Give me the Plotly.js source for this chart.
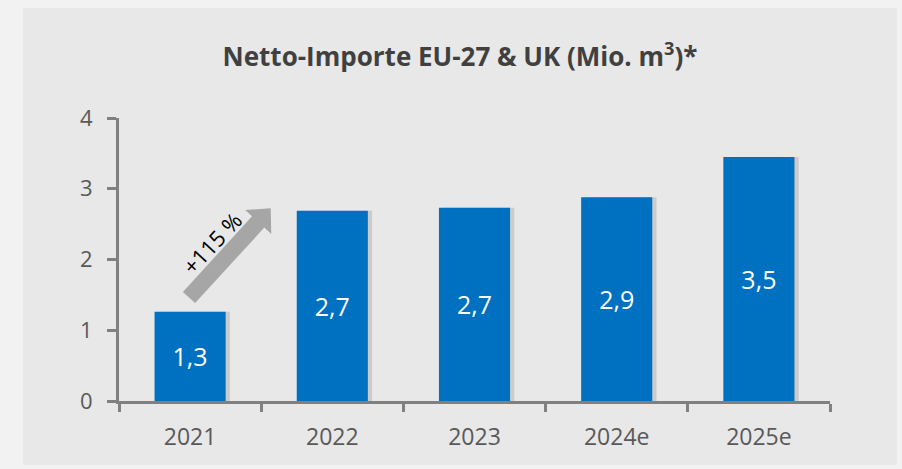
<!DOCTYPE html>
<html>
<head>
<meta charset="utf-8">
<script src="https://cdn.plot.ly/plotly-3.0.1.min.js"></script>
<style>html,body{margin:0;padding:0;background:#f2f2f2;}#chart{width:902px;height:469px;}</style>
</head>
<body>
<div id="chart"></div>
<script>
const categories = ["2021", "2022", "2023", "2024e", "2025e"];
const values = [1.26, 2.69, 2.73, 2.88, 3.45];
const valueLabels = ["1,3", "2,7", "2,7", "2,9", "3,5"];
const yTicks = [0, 1, 2, 3, 4];
const growthLabel = "+115 %";

const W = 902, H = 469;
const m = {l: 119, r: 72, t: 118, b: 68};
const pw = W - m.l - m.r, ph = H - m.t - m.b;
const px = x => (x - m.l) / pw;
const py = y => (H - m.b - y) / ph;

// decorative arrow polygon (pixel geometry -> paper coords)
const tail = [189, 297.5], tip = [270.7, 208.3];
const len = Math.hypot(tip[0] - tail[0], tip[1] - tail[1]);
const d = [(tip[0] - tail[0]) / len, (tip[1] - tail[1]) / len];
const n = [-d[1], d[0]];
const sw = 8.3, hw = 17.7, hl = 18.5;
const base = [tip[0] - hl * d[0], tip[1] - hl * d[1]];
const pts = [
  [tail[0] + sw * n[0], tail[1] + sw * n[1]],
  [base[0] + sw * n[0], base[1] + sw * n[1]],
  [base[0] + hw * n[0], base[1] + hw * n[1]],
  tip,
  [base[0] - hw * n[0], base[1] - hw * n[1]],
  [base[0] - sw * n[0], base[1] - sw * n[1]],
  [tail[0] - sw * n[0], tail[1] - sw * n[1]]
];
const arrowPath = 'M' + pts.map(p => px(p[0]).toFixed(5) + ',' + py(p[1]).toFixed(5)).join('L') + 'Z';

const shadow = {
  type: 'bar', x: categories, y: values,
  marker: {color: 'rgba(0,0,0,0.12)'},
  width: 0.5, offset: -0.25 + 0.03,
  hoverinfo: 'skip', showlegend: false
};
const bars = {
  type: 'bar', x: categories, y: values,
  marker: {color: '#0070C0', line: {width: 0}},
  width: 0.5,
  text: valueLabels, textposition: 'inside', insidetextanchor: 'middle',
  textangle: 0,
  textfont: {color: '#ffffff', size: 25, family: 'Open Sans, sans-serif'},
  showlegend: false
};

const tickFont = {family: 'Open Sans, sans-serif', size: 22, color: '#595959'};

const layout = {
  width: W, height: H,
  margin: m,
  paper_bgcolor: '#f2f2f2',
  plot_bgcolor: 'rgba(0,0,0,0)',
  barmode: 'overlay',
  title: {
    text: 'Netto-Importe EU-27 & UK (Mio. m<sup>3</sup>)*',
    font: {family: 'Open Sans, sans-serif', size: 26, color: '#404040', weight: 'bold'},
    x: 0.51, xanchor: 'center', xref: 'container',
    y: 1 - 57 / H, yanchor: 'middle', yref: 'container'
  },
  xaxis: {
    type: 'category', range: [-0.5, 4.5],
    showline: true, linecolor: '#808080', linewidth: 3,
    ticks: 'outside', tickson: 'boundaries', ticklen: 8, tickwidth: 3, tickcolor: '#808080',
    tickfont: {family: 'Open Sans, sans-serif', size: 23, color: '#595959'}, ticklabelstandoff: 13,
    showgrid: false, zeroline: false, fixedrange: true
  },
  yaxis: {
    range: [0, 4], tickvals: yTicks, ticktext: yTicks.map(String),
    showline: true, linecolor: '#808080', linewidth: 3,
    ticks: 'outside', ticklen: 9, tickwidth: 3, tickcolor: '#808080',
    tickfont: tickFont, ticklabelstandoff: 10,
    showgrid: false, zeroline: false, fixedrange: true
  },
  shapes: [
    {
      type: 'rect', xref: 'paper', yref: 'paper', layer: 'below',
      x0: px(23), x1: px(897), y0: py(465), y1: py(8),
      fillcolor: '#e8e8e8', line: {width: 0}
    },
    {
      type: 'path', xref: 'paper', yref: 'paper', layer: 'above',
      path: arrowPath, fillcolor: '#a6a6a6', line: {width: 0}
    }
  ],
  annotations: [
    {
      xref: 'paper', yref: 'paper', x: px(211.7), y: py(243.3),
      text: growthLabel, showarrow: false, textangle: -47,
      font: {family: 'Open Sans, sans-serif', size: 22, color: '#000000'},
      xanchor: 'center', yanchor: 'middle'
    }
  ]
};

Plotly.newPlot('chart', [shadow, bars], layout, {displayModeBar: false, staticPlot: true});
</script>
</body>
</html>
